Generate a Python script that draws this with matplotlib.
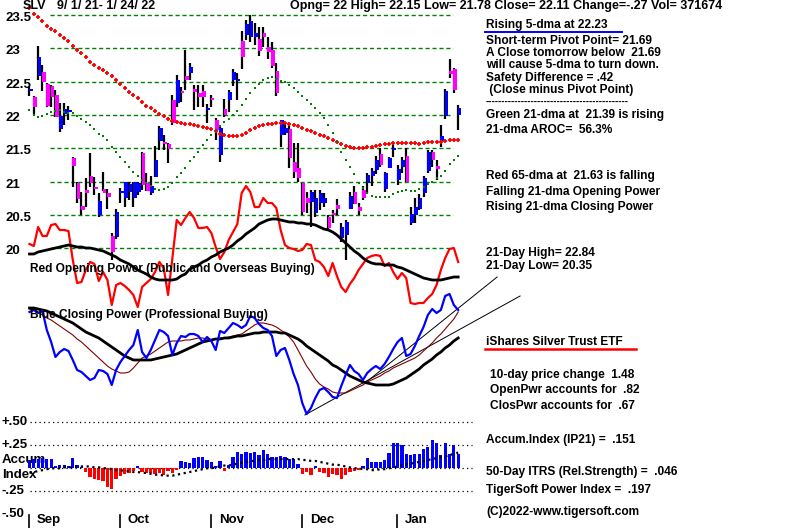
import matplotlib
matplotlib.use("Agg")
import matplotlib.pyplot as plt
import matplotlib.transforms as mtransforms
from matplotlib.lines import Line2D
import numpy as np

# SLV daily bars 9/1/21 - 1/24/22
opens = [22.36, 22.27, 22.59, 22.65, 22.47, 22.44, 22.30, 21.79, 22.02, 22.05,
         21.36, 20.98, 20.64, 20.88, 21.09, 20.92, 20.50, 20.89, 20.83, 20.18,
         20.17, 20.83, 20.76, 20.84, 20.76, 20.84, 21.43, 20.98, 20.83, 21.07,
         21.61, 21.60, 21.57, 22.23, 22.18, 22.36, 22.59, 22.63, 22.39, 22.33,
         22.36, 22.07, 22.24, 21.93, 21.40, 22.09, 22.23, 22.53, 22.51, 23.11,
         23.20, 23.17, 23.17, 23.14, 23.23, 23.02, 22.98, 22.66, 21.70, 21.73,
         21.79, 21.30, 21.21, 20.98, 20.76, 20.70, 20.53, 20.68, 20.68, 20.47,
         20.53, 20.65, 20.16, 20.20, 20.59, 20.85, 20.62, 20.88, 20.98, 21.09,
         21.18, 21.42, 20.89, 21.21, 21.48, 21.03, 21.22, 21.39, 20.38, 20.50,
         20.59, 20.83, 21.16, 21.45, 21.24, 21.61, 21.99, 22.66, 22.69, 22.00]
highs = [22.44, 22.28, 23.03, 22.75, 22.48, 22.45, 22.38, 22.18, 22.18, 22.14,
         21.37, 20.99, 20.84, 21.05, 21.43, 21.07, 20.83, 21.14, 20.89, 20.23,
         20.59, 20.91, 21.00, 21.00, 21.00, 21.00, 21.44, 21.13, 21.09, 21.54,
         21.84, 21.70, 21.58, 22.30, 22.60, 22.42, 22.98, 22.78, 22.45, 22.45,
         22.45, 22.17, 22.30, 21.96, 21.82, 22.24, 22.38, 22.69, 22.63, 23.26,
         23.43, 23.50, 23.38, 23.32, 23.32, 23.17, 23.10, 22.78, 21.93, 21.88,
         21.88, 21.58, 21.58, 20.98, 20.84, 20.88, 20.88, 20.88, 20.83, 20.50,
         20.58, 20.74, 20.38, 20.42, 20.85, 20.94, 20.68, 20.94, 21.13, 21.21,
         21.39, 21.51, 21.15, 21.37, 21.58, 21.25, 21.37, 21.51, 20.62, 20.76,
         20.82, 21.09, 21.48, 21.48, 21.33, 21.85, 22.39, 22.84, 22.71, 22.15]
lows = [22.29, 22.00, 22.53, 22.36, 22.12, 22.12, 21.97, 21.75, 21.85, 21.93,
        20.92, 20.68, 20.50, 20.62, 20.92, 20.80, 20.47, 20.86, 20.59, 19.83,
        20.14, 20.68, 20.62, 20.72, 20.62, 20.80, 20.88, 20.86, 20.80, 21.07,
        21.48, 21.48, 21.28, 21.85, 22.12, 22.20, 22.38, 22.53, 22.08, 22.12,
        22.12, 21.88, 22.12, 21.63, 21.30, 21.97, 22.05, 22.44, 22.23, 22.69,
        23.13, 23.10, 23.05, 22.89, 23.02, 22.84, 22.71, 22.29, 21.52, 21.70,
        21.21, 21.06, 21.00, 20.50, 20.53, 20.32, 20.47, 20.58, 20.62, 20.28,
        20.38, 20.50, 20.10, 19.83, 20.59, 20.67, 20.50, 20.73, 20.83, 20.94,
        21.12, 21.22, 20.85, 21.21, 21.37, 20.95, 21.13, 20.99, 20.35, 20.38,
        20.58, 20.77, 21.13, 21.22, 21.03, 21.52, 21.94, 22.56, 22.33, 21.78]
closes = [22.37, 22.12, 22.87, 22.50, 22.14, 22.27, 21.97, 21.99, 22.09, 22.06,
          21.24, 20.74, 20.58, 20.83, 20.98, 20.89, 20.71, 20.83, 20.77, 19.95,
          20.55, 20.84, 21.00, 20.97, 20.99, 20.98, 20.95, 20.86, 20.94, 21.33,
          21.81, 21.57, 21.49, 21.88, 22.53, 22.33, 22.53, 22.72, 22.35, 22.27,
          22.27, 22.09, 22.22, 21.78, 21.81, 22.00, 22.35, 22.65, 22.53, 22.87,
          23.36, 23.41, 23.23, 22.96, 23.17, 22.94, 22.74, 22.33, 21.93, 21.81,
          21.36, 21.15, 21.06, 20.55, 20.68, 20.85, 20.76, 20.83, 20.76, 20.31,
          20.50, 20.59, 20.32, 20.40, 20.79, 20.67, 20.56, 20.76, 21.10, 21.16,
          21.33, 21.25, 21.13, 21.36, 21.50, 21.19, 21.33, 20.99, 20.52, 20.62,
          20.76, 21.06, 21.45, 21.33, 21.19, 21.69, 22.36, 22.61, 22.38, 22.11]

# moving averages on price
ma65 = [23.60, 23.52, 23.47, 23.41, 23.34, 23.29, 23.26, 23.20, 23.16, 23.11,
        23.03, 22.98, 22.93, 22.87, 22.79, 22.75, 22.71, 22.67, 22.63, 22.58,
        22.52, 22.46, 22.41, 22.34, 22.30, 22.25, 22.19, 22.14, 22.10, 22.06,
        22.02, 21.98, 21.94, 21.91, 21.90, 21.88, 21.87, 21.86, 21.85, 21.83,
        21.82, 21.80, 21.79, 21.76, 21.72, 21.70, 21.69, 21.69, 21.69, 21.70,
        21.73, 21.77, 21.80, 21.83, 21.85, 21.86, 21.87, 21.88, 21.88, 21.88,
        21.87, 21.85, 21.83, 21.81, 21.78, 21.76, 21.73, 21.70, 21.68, 21.66,
        21.63, 21.60, 21.57, 21.54, 21.52, 21.51, 21.51, 21.51, 21.52, 21.52,
        21.53, 21.55, 21.56, 21.57, 21.58, 21.58, 21.58, 21.58, 21.58, 21.58,
        21.57, 21.58, 21.59, 21.60, 21.60, 21.60, 21.61, 21.62, 21.63, 21.63]
ma21 = [22.08, 22.00, 21.97, 21.99, 22.02, 22.05, 22.06, 22.08, 22.05, 22.03,
        22.03, 21.99, 21.94, 21.90, 21.85, 21.79, 21.72, 21.69, 21.63, 21.52,
        21.45, 21.37, 21.30, 21.22, 21.15, 21.09, 21.03, 20.98, 20.94, 20.89,
        20.88, 20.89, 20.92, 20.98, 21.07, 21.13, 21.21, 21.31, 21.37, 21.45,
        21.55, 21.63, 21.70, 21.78, 21.84, 21.90, 21.94, 22.00, 22.06, 22.15,
        22.24, 22.33, 22.41, 22.47, 22.53, 22.56, 22.57, 22.54, 22.51, 22.50,
        22.45, 22.41, 22.35, 22.29, 22.23, 22.17, 22.11, 22.03, 21.96, 21.85,
        21.73, 21.60, 21.45, 21.33, 21.22, 21.12, 20.98, 20.91, 20.83, 20.79,
        20.77, 20.77, 20.77, 20.77, 20.82, 20.85, 20.86, 20.88, 20.86, 20.86,
        20.89, 20.92, 20.97, 21.00, 21.06, 21.09, 21.16, 21.27, 21.33, 21.39]

# Opening Power (red) and its 21-dma (black), chart units
open_power = [6, 4, 23, 14, 14, 25, 26, 20, 20, 19,
              -10, -33, -32, -20, -12, -14, -31, -22, -30, -55,
              -35, -33, -36, -40, -45, -57, -37, -33, -29, -22,
              -12, -18, -45, -8, 30, 25, 32, 38, 32, 22,
              22, 23, 17, 3, -9, -2, 10, 18, 26, 57,
              64, 58, 43, 43, 52, 47, 47, 42, 20, 5,
              2, 1, -1, 0, 6, 5, -10, -12, -17, -26,
              -13, -26, -37, -42, -34, -28, -20, -14, -8, -6,
              -5, -6, -16, -13, -22, -29, -23, -28, -53, -54,
              -53, -53, -48, -44, -35, -20, -8, 1, 2, -12]
open_power_ma = [-4, -4, -2, -1, 0, 1, 2, 3, 4, 5,
                 4, 3, 3, 2, 2, 1, 0, -1, -3, -5,
                 -7, -10, -12, -14, -17, -20, -22, -24, -27, -29,
                 -30, -30, -30, -30, -29, -26, -24, -19, -17, -15,
                 -12, -10, -7, -5, -2, 0, 2, 5, 9, 12,
                 16, 19, 22, 26, 28, 30, 31, 31, 30, 29,
                 28, 28, 27, 27, 26, 26, 25, 23, 21, 20,
                 18, 15, 11, 7, 3, -1, -4, -8, -11, -13,
                 -14, -14, -15, -15, -15, -17, -18, -20, -22, -24,
                 -26, -28, -29, -30, -30, -30, -29, -28, -27, -27]

# Closing Power (blue), its 21-dma (black) and a faster average (dark red)
close_power = [48, 50, 47, 49, 30, 18, 3, 8, 11, 9,
               0, -10, -12, -16, -20, -18, -10, -11, -14, -25,
               -10, -2, 4, 10, 15, 30, 8, 2, 10, 20,
               30, 28, 24, 5, 17, 24, 23, 26, 26, 24,
               18, 23, 19, 10, 29, 27, 32, 37, 35, 32,
               35, 44, 42, 36, 32, 30, 24, 4, 10, 12,
               0, -14, -25, -43, -54, -48, -38, -30, -28, -32,
               -37, -38, -26, -15, -5, -11, -14, -20, -13, -9,
               -6, -9, -4, 3, 11, 18, 22, 4, 6, 14,
               24, 33, 45, 51, 47, 50, 64, 66, 55, 50]
close_power_ma = [52, 52, 51, 50, 49, 47, 45, 43, 41, 39,
                  37, 34, 31, 28, 26, 24, 22, 19, 16, 13,
                  10, 7, 4, 2, 0, 0, 0, 0, 0, 1,
                  2, 3, 4, 5, 6, 8, 10, 12, 14, 16,
                  18, 19, 20, 21, 21, 22, 22, 23, 24, 24,
                  25, 26, 27, 27, 28, 28, 28, 28, 27, 27,
                  25, 23, 21, 18, 14, 11, 8, 5, 2, -1,
                  -5, -7, -10, -13, -16, -18, -20, -22, -23, -24,
                  -25, -25, -25, -25, -24, -22, -20, -18, -15, -12,
                  -9, -5, -2, 1, 5, 8, 12, 15, 19, 22]
close_power_fast = [51, 50, 48, 45, 42, 40, 37, 34, 31, 28,
                    25, 21, 18, 14, 10, 6, 2, -2, -6, -9,
                    -11, -13, -13, -12, -8, -3, 2, 4, 6, 9,
                    12, 15, 18, 19, 19, 19, 20, 20, 21, 22,
                    22, 21, 20, 21, 22, 22, 23, 24, 25, 26,
                    29, 32, 35, 37, 37, 36, 35, 33, 30, 27,
                    23, 18, 10, 2, -6, -12, -19, -24, -27, -29,
                    -32, -33, -33, -33, -31, -29, -27, -25, -22, -20,
                    -18, -16, -13, -11, -8, -6, -4, -2, 0, 2,
                    5, 9, 13, 17, 22, 26, 31, 36, 41, 48]
# up-trend lines drawn on Closing Power: (day index pair, level pair)
trend_a_days, trend_a_vals = [63.6, 113.3], [-55, 64]
trend_b_days, trend_b_vals = [77.5, 108.0], [-23, 83]

# Accumulation index (IP21) and its moving average
accum = [0.09, 0.10, 0.10, 0.11, 0.10, 0.10, 0.03, 0.04, 0.04, 0.02,
         0.11, 0.04, 0.01, -0.04, -0.10, -0.12, -0.13, -0.14, -0.20, -0.23,
         -0.12, -0.08, -0.06, -0.05, -0.03, 0.02, -0.04, -0.05, -0.05, -0.06,
         -0.05, -0.07, -0.03, -0.05, -0.02, 0.08, 0.07, 0.06, 0.11, 0.12,
         0.12, 0.09, 0.07, 0.03, 0.08, -0.03, 0.04, 0.12, 0.18, 0.16,
         0.18, 0.17, 0.18, 0.14, 0.20, 0.15, 0.12, 0.12, 0.13, 0.12,
         0.10, 0.10, 0.05, -0.06, -0.04, -0.07, 0.02, -0.04, -0.05, -0.09,
         -0.06, -0.07, -0.12, -0.07, -0.04, -0.03, -0.02, 0.02, 0.11, 0.07,
         0.07, 0.07, 0.09, 0.17, 0.28, 0.28, 0.25, 0.16, 0.14, 0.15,
         0.16, 0.21, 0.23, 0.31, 0.27, 0.14, 0.27, 0.15, 0.25, 0.151]
accum_ma = [-0.05, -0.04, -0.03, -0.02, -0.01, 0.0, 0.0, 0.0, 0.01, 0.01,
            0.01, 0.02, 0.02, 0.02, 0.02, 0.01, 0.01, 0.0, 0.0, -0.01,
            -0.02, -0.02, -0.03, -0.03, -0.04, -0.04, -0.05, -0.05, -0.06, -0.07,
            -0.07, -0.08, -0.08, -0.08, -0.07, -0.06, -0.05, -0.04, -0.03, -0.02,
            -0.01, 0.0, 0.0, 0.01, 0.02, 0.03, 0.03, 0.04, 0.05, 0.06,
            0.07, 0.08, 0.08, 0.09, 0.09, 0.10, 0.10, 0.10, 0.10, 0.10,
            0.10, 0.10, 0.10, 0.09, 0.09, 0.08, 0.08, 0.07, 0.06, 0.05,
            0.04, 0.04, 0.03, 0.02, 0.01, 0.0, 0.0, -0.01, -0.01, -0.02,
            -0.02, -0.01, -0.01, 0.0, 0.01, 0.02, 0.03, 0.04, 0.05, 0.06,
            0.07, 0.08, 0.09, 0.10, 0.11, 0.12, 0.13, 0.14, 0.16, 0.17]

month_labels = ["Sep", "Oct", "Nov", "Dec", "Jan"]
month_starts = [0, 21, 42, 63, 85]
price_levels = [23.5, 23, 22.5, 22, 21.5, 21, 20.5, 20]
accum_levels = [0.5, 0.25, -0.25, -0.5]
accum_grid = [0.5, 0.25, 0.0, -0.25]

W, H = 800, 528
plt.rcParams['font.family'] = ['Liberation Sans', 'DejaVu Sans']
plt.rcParams['font.weight'] = 'bold'
FS = 8.6

fig = plt.figure(figsize=(W / 100, H / 100), dpi=100)
fig.patch.set_facecolor('white')

XLIM = (-6.81, 177.94)
days = np.arange(len(closes))


def layer(ylim):
    a = fig.add_axes([0, 0, 1, 1])
    a.set_xlim(*XLIM)
    a.set_ylim(*ylim)
    a.patch.set_alpha(0)
    a.axis('off')
    return a


def ftext(x, y, s, **kw):
    kw.setdefault('fontsize', FS)
    fig.text(x / W, 1 - y / H, s, ha=kw.pop('ha', 'left'), va='center', **kw)


def fline(x0, x1, y, **kw):
    fig.add_artist(Line2D([x0 / W, x1 / W], [1 - y / H, 1 - y / H],
                          transform=fig.transFigure, **kw))


# ---- price layer ----
ax = layer((15.809, 23.725))
ylab = mtransforms.blended_transform_factory(ax.transAxes, ax.transData)
for lv in price_levels:
    ax.plot([4.7, 97.8], [lv, lv], color='#008000', lw=1, ls=(0, (3, 2)), zorder=1)
    ax.text(5 / W, lv - 0.045, f"{lv:g}", transform=ylab, fontsize=9.5, va='center', ha='left')

o = np.array(opens); c = np.array(closes)
body_lo = np.minimum(o, c)
body_h = np.maximum(np.abs(c - o), 0.03)
body_col = np.where(c >= o, '#0000FF', '#FF00FF')
ax.vlines(days, lows, highs, color='black', lw=1.6, zorder=3)
ax.bar(days + 0.3, body_h, bottom=body_lo, width=0.85, color=body_col, zorder=4, linewidth=0)
ax.plot(days, ma65, ls='none', marker='+', ms=2.8, mew=1.3, color='#FF0000', zorder=5)
ax.plot(days, ma21, ls='none', marker='s', ms=1.8, color='#008000', mew=0, zorder=5)

# ---- opening power layer ----
axo = layer((-278, 250))
axo.plot(days, open_power, color='#FF0000', lw=1.6, zorder=3)
axo.plot(days, open_power_ma, color='black', lw=2.0, zorder=4)

# ---- closing power layer ----
axc = layer((-168, 360))
axc.plot(trend_a_days, trend_a_vals, color='black', lw=0.7, zorder=2)
axc.plot(trend_b_days, trend_b_vals, color='black', lw=0.7, zorder=2)
axc.plot(days, close_power_fast, color='#800000', lw=0.8, zorder=3)
axc.plot(days, close_power_ma, color='black', lw=2.0, zorder=4)
axc.plot(days, close_power, color='#0000FF', lw=1.6, zorder=5)

# ---- accumulation index layer ----
axa = layer((-0.649, 5.090))
for lv in accum_grid:
    axa.plot([0.1, 102.2], [lv, lv], color='black', lw=0.9, ls=(0, (1, 2.6)), zorder=1)
acc = np.array(accum)
axa.bar(days, acc, width=0.75, color=np.where(acc >= 0, '#0000FF', '#FF0000'), zorder=3, linewidth=0)
axa.plot(days, accum_ma, color='black', lw=1.6, ls=(0, (1, 1.6)), zorder=4)
tr = mtransforms.blended_transform_factory(axa.transAxes, axa.transData)
for lv in accum_levels:
    lab = ('+' if lv > 0 else '-') + f"{abs(lv):.2f}"[1:]
    axa.text(2 / W, lv, lab, transform=tr, fontsize=9.5, va='center', ha='left', zorder=2)
axa.text(2 / W, 0.09, "Accum", transform=tr, fontsize=9.5, va='center', ha='left', zorder=2)
axa.text(2 / W, -0.07, "Index", transform=tr, fontsize=9.5, va='center', ha='left', zorder=2)

# month ticks and names
trx = mtransforms.blended_transform_factory(axa.transData, axa.transAxes)
for m, d in zip(month_labels, month_starts):
    axa.plot([d - 0.05, d - 0.05], [0, 13 / H], color='black', lw=1.2, transform=trx, clip_on=False)
    axa.text(d + 1.7, 8 / H, m, transform=trx, fontsize=9.5, va='center', ha='left')

# ---- header ----
ftext(23, 6, "SLV", fontsize=9.0)
ftext(57, 6, "9/ 1/ 21- 1/ 24/ 22", fontsize=9.0)
ftext(290, 6, "Opng= 22 High= 22.15 Low= 21.78 Close= 22.11 Change=-.27 Vol= 371674", fontsize=9.0)

# ---- panel labels ----
ftext(30, 269, "Red Opening Power (Public and Overseas Buying)")
ftext(30, 315, "Blue Closing Power (Professional Buying)")

# ---- right-side notes ----
X0 = 486
ftext(X0, 25, "Rising 5-dma at 22.23")
fline(485, 622, 32, color='#0000FF', lw=1.4)
ftext(X0, 41, "Short-term Pivot Point= 21.69")
ftext(X0, 53, "A Close tomorrow below  21.69")
ftext(X0, 65, "will cause 5-dma to turn down.")
ftext(X0, 78, "Safety Difference = .42")
ftext(X0, 90, " (Close minus Pivot Point)")
ftext(X0, 102, "-" * 44, fontsize=7)
ftext(X0, 115, "Green 21-dma at  21.39 is rising")
ftext(X0, 130, "21-dma AROC=  56.3%")
ftext(X0, 176, "Red 65-dma at  21.63 is falling")
ftext(X0, 192, "Falling 21-dma Opening Power")
ftext(X0, 207, "Rising 21-dma Closing Power")
ftext(X0, 253, "21-Day High= 22.84")
ftext(X0, 266, "21-Day Low= 20.35")
ftext(X0, 342, "iShares Silver Trust ETF")
fline(485, 636, 349, color='#FF0000', lw=1.8)
ftext(490, 375, "10-day price change  1.48")
ftext(490, 390, "OpenPwr accounts for  .82")
ftext(490, 406, "ClosPwr accounts for  .67")
ftext(X0, 440, "Accum.Index (IP21) =  .151")
ftext(X0, 472, "50-Day ITRS (Rel.Strength) =  .046")
ftext(X0, 490, "TigerSoft Power Index =  .197")
ftext(X0, 512, "(C)2022-www.tigersoft.com")

fig.savefig("out.png", dpi=100)
